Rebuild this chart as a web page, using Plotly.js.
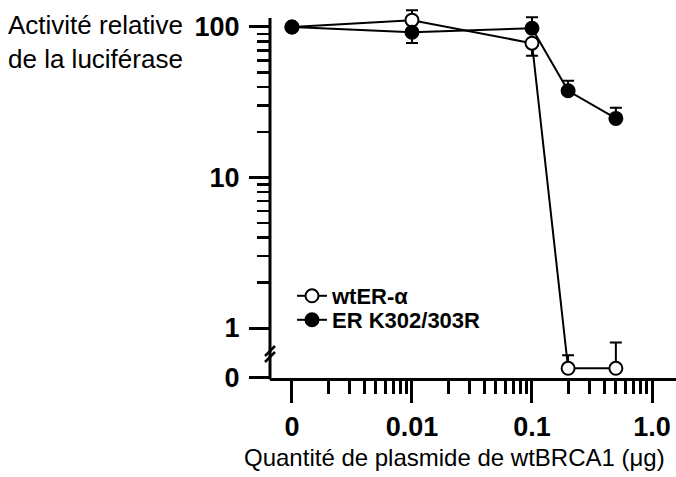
<!DOCTYPE html>
<html>
<head>
<meta charset="utf-8">
<script src="https://cdn.plot.ly/plotly-3.0.1.min.js"></script>
<style>html,body{margin:0;padding:0;background:#fff;}#chart{width:676px;height:477px;}</style>
</head>
<body>
<div id="chart"></div>
<script>
// ---- data ----
const xQuantity = [0, 0.01, 0.1, 0.2, 0.5];           // µg wtBRCA1
const xTickVals = [0, 0.01, 0.1, 1];
const xTickText = ['0', '0.01', '0.1', '1.0'];
const wtActivity   = [100, 111, 78, 0.54, 0.54];        // wtER-α
const wtErrPlus    = [0, 18, 0, 0.12, 0.26];
const wtErrMinus   = [0, 0, 13.6, 0, 0];
const mutActivity  = [100, 92.3, 98, 37.7, 24.7];       // ER K302/303R
const mutErrPlus   = [0, 0, 18, 6.3, 4.4];
const mutErrMinus  = [0, 14, 0, 0, 0];
const yTickVals = [0, 1, 10, 100];
const yTickText = ['0', '1', '10', '100'];
const seriesNames = ['wtER-α', 'ER K302/303R'];

// broken log axes: where "0" is drawn on each axis
const X_ZERO_POS = 0.001;
const Y_ZERO_POS = 0.466;
const toX = v => v === 0 ? X_ZERO_POS : v;
const toY = v => v === 0 ? Y_ZERO_POS : v;

const FONT = 'Liberation Sans, Arial, Helvetica, sans-serif';
const W = 676, H = 477, ML = 270, MR = 0, MT = 5, MB = 99;
const PW = W - ML - MR, PH = H - MT - MB;
const px = x => (x - ML) / PW;          // pixel -> paper
const py = y => (H - MB - y) / PH;
const Y_AXIS_TOP_PX = 18;

function minorTicks(decades) {
  const out = [];
  decades.forEach(d => { for (let k = 2; k <= 9; k++) out.push(k * d); });
  return out;
}

const common = {
  mode: 'lines+markers',
  line: {color: 'black', width: 2},
  cliponaxis: false,
  hoverinfo: 'skip'
};

const traces = [
  Object.assign({}, common, {
    name: seriesNames[0], legend: 'legend',
    x: xQuantity.map(toX), y: wtActivity.map(toY),
    marker: {symbol: 'circle', size: 13, color: 'white', line: {color: 'black', width: 2}},
    error_y: {type: 'data', symmetric: false, array: wtErrPlus, arrayminus: wtErrMinus,
              color: 'black', thickness: 2, width: 6}
  }),
  Object.assign({}, common, {
    name: seriesNames[1], legend: 'legend2',
    x: xQuantity.map(toX), y: mutActivity.map(toY),
    marker: {symbol: 'circle', size: 13, color: 'black', line: {color: 'black', width: 2}},
    error_y: {type: 'data', symmetric: false, array: mutErrPlus, arrayminus: mutErrMinus,
              color: 'black', thickness: 2, width: 6}
  })
];

const legendBase = {
  xanchor: 'left', yanchor: 'middle', bgcolor: 'rgba(0,0,0,0)', borderwidth: 0,
  font: {family: FONT, size: 22, color: 'black', weight: 'bold'}
};

const layout = {
  width: W, height: H,
  margin: {l: ML, r: MR, t: MT, b: MB, pad: 0},
  paper_bgcolor: 'white', plot_bgcolor: 'white',
  showlegend: true,
  legend: Object.assign({}, legendBase, {x: px(292), y: py(296)}),
  legend2: Object.assign({}, legendBase, {x: px(292), y: py(320)}),
  xaxis: {
    type: 'log', range: [-3.183, 0.2],
    tickvals: xTickVals.map(toX), ticktext: xTickText,
    ticks: 'outside', ticklen: 22, tickwidth: 3, tickcolor: 'black',
    showline: true, linewidth: 3, linecolor: 'black',
    showgrid: false, zeroline: false, ticklabelstandoff: 1,
    tickfont: {family: FONT, size: 27, color: 'black', weight: 'bold'},
    minor: {tickvals: minorTicks([0.001, 0.01, 0.1]), ticks: 'outside', ticklen: 13,
            tickwidth: 3, tickcolor: 'black', showgrid: false}
  },
  yaxis: {
    type: 'log', range: [-0.332, 2.146],
    tickvals: yTickVals.map(toY), ticktext: yTickText,
    ticks: 'outside', ticklen: 20, tickwidth: 3, tickcolor: 'black',
    showline: false,
    showgrid: false, zeroline: false, ticklabelstandoff: 4,
    tickfont: {family: FONT, size: 27, color: 'black', weight: 'bold'},
    minor: {tickvals: minorTicks([1, 10]), ticks: 'outside', ticklen: 12,
            tickwidth: 2.5, tickcolor: 'black', showgrid: false}
  },
  annotations: [
    {text: 'Activité relative<br>de la luciférase', xref: 'paper', yref: 'paper',
     x: px(6), y: py(8), xanchor: 'left', yanchor: 'top', align: 'left', showarrow: false,
     font: {family: FONT, size: 26, color: 'black'}},
    {text: 'Quantité de plasmide de wtBRCA1 (μg)', xref: 'paper', yref: 'paper',
     x: px(454), y: py(458), xanchor: 'center', yanchor: 'middle', showarrow: false,
     font: {family: FONT, size: 24, color: 'black'}}
  ],
  shapes: [
    // y axis line (stops below the top of the plotting area, as in the figure)
    {type: 'line', xref: 'paper', yref: 'paper', x0: 0, y0: py(379.5), x1: 0, y1: py(Y_AXIS_TOP_PX),
     line: {color: 'black', width: 3}, layer: 'above'},
    // axis break marks
    {type: 'line', xref: 'paper', yref: 'paper', x0: px(265), y0: py(356), x1: px(275), y1: py(346),
     line: {color: 'black', width: 2.5}},
    {type: 'line', xref: 'paper', yref: 'paper', x0: px(265), y0: py(362), x1: px(275), y1: py(352),
     line: {color: 'black', width: 2.5}}
  ]
};

Plotly.newPlot('chart', traces, layout, {staticPlot: true, displayModeBar: false});
</script>
</body>
</html>
